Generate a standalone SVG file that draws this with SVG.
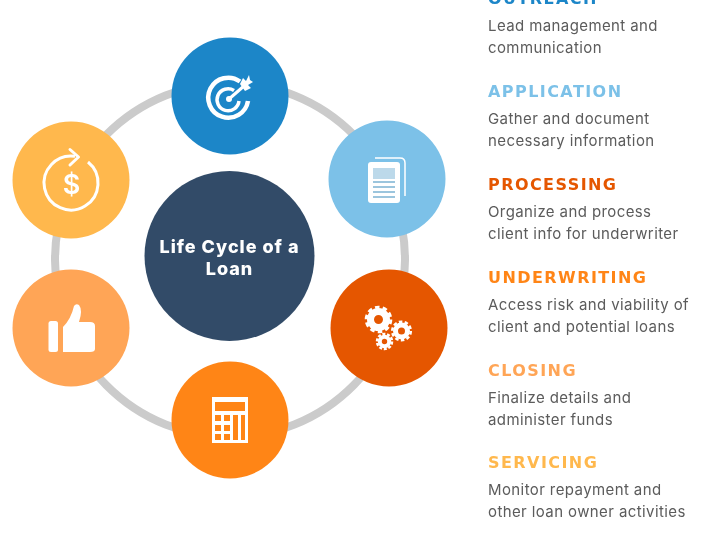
<svg xmlns="http://www.w3.org/2000/svg" width="720" height="540" viewBox="0 0 720 540">
<defs><filter id="soft" x="0" y="0" width="100%" height="100%"><feGaussianBlur stdDeviation="0.6"/></filter></defs>
<style>
.h{font:700 16px "DejaVu Sans","Liberation Sans",sans-serif;letter-spacing:1.43px}
.b{font:400 15px "Inter","Liberation Sans",sans-serif;fill:#5b5b5b;letter-spacing:.4px}
.t{font:800 18px "Inter","Liberation Sans",sans-serif;fill:#fff;text-anchor:middle;letter-spacing:1px}
.w{fill:#fff}
.l{fill:none;stroke:#fff;stroke-width:3}
</style>
<rect width="720" height="540" fill="#fff"/>
<g filter="url(#soft)">
<g id="connectors"><ellipse cx="230" cy="260" rx="175" ry="177" fill="none" stroke="#cbcbcb" stroke-width="8"/></g>
<g id="center"><circle cx="229.500" cy="256" r="85" fill="#334c68"/><text class="t" x="229.500" y="253">Life Cycle of a</text><text class="t" x="229.500" y="275">Loan</text></g>
<g id="outreach"><circle cx="230" cy="96" r="58.500" fill="#1e86c8"/>
<path d="M240 81.500A20 20 0 1 0 248 101" fill="none" stroke="#fff" stroke-width="4.500"/>
<path d="M234 90.500A11 11 0 1 0 239 101" fill="none" stroke="#fff" stroke-width="3.500"/>
<circle class="w" cx="229" cy="99" r="3"/>
<path d="M229 99L244 86" stroke="#fff" stroke-width="3"/>
<path class="w" d="M240 84L243 78L246 81L249 75L250 80L253 82L248 85L251 88L245 91Z"/></g>
<g id="application"><circle cx="387" cy="179" r="58.500" fill="#7cc1e8"/>
<path d="M375 158H400Q405 158 405 163V196" fill="none" stroke="#fff" stroke-width="1.500"/>
<rect class="w" x="368" y="162" width="32" height="41" rx="3"/>
<path d="M373 168H395V179H373Z" fill="#bcd9ea"/>
<path d="M373 181H395V183H373ZM373 186H395V188H373ZM373 191H395V193H373ZM373 196H395V198H373Z" fill="#9cc5dd"/></g>
<g id="processing"><circle cx="389" cy="328" r="58.500" fill="#e55700"/>
<g fill="none" stroke="#fff">
<circle cx="378.500" cy="319.500" r="8" stroke-width="7"/><circle cx="378.500" cy="319.500" r="12.300" stroke-width="3" stroke-dasharray="4.500 3.230"/>
<circle cx="401.500" cy="331" r="6" stroke-width="5"/><circle cx="401.500" cy="331" r="9.300" stroke-width="2.500" stroke-dasharray="3.500 2.340"/>
<circle cx="384.500" cy="341.500" r="4.700" stroke-width="4"/><circle cx="384.500" cy="341.500" r="7.500" stroke-width="2.500" stroke-dasharray="3 1.710"/>
</g></g>
<g id="closing"><circle cx="230" cy="420" r="58.500" fill="#ff8519"/>
<rect class="w" x="212" y="397" width="36" height="46"/>
<path fill="#ff8519" d="M215 402H245V411H215ZM215 415H221V421H215ZM224 415H230V421H224ZM215 425H221V431H215ZM224 425H230V431H224ZM215 434H221V440H215ZM224 434H230V440H224ZM233 415H238V440H233ZM241 415H245V440H241Z"/></g>
<g id="underwriting"><circle cx="71" cy="328" r="58.500" fill="#ffa556"/>
<rect class="w" x="48.500" y="321" width="9.500" height="31" rx="2.500"/>
<path class="w" d="M63 352V327Q71 319 74 306Q76 303 79 305Q83 310 79 322H90Q95 322 95 326V349Q95 352 90 352Z"/></g>
<g id="servicing"><circle cx="71" cy="180" r="58.500" fill="#ffb84d"/>
<path class="l" d="M75 156.300A27 27 0 1 0 88 162"/>
<path class="l" d="M70 149.500L78.500 157L70 165" stroke-linecap="round" stroke-linejoin="round"/>
<text x="71.500" y="194" style="font:600 27px 'Inter','Liberation Sans',sans-serif" fill="#fff" text-anchor="middle">$</text></g>
<g id="legend">
<text class="h" x="488" y="4" fill="#1e86c8">OUTREACH</text>
<text class="b" x="488" y="31">Lead management and</text><text class="b" x="488" y="53">communication</text>
<text class="h" x="488" y="97" fill="#7cc1e8">APPLICATION</text>
<text class="b" x="488" y="124">Gather and document</text><text class="b" x="488" y="146">necessary information</text>
<text class="h" x="488" y="190" fill="#e55700">PROCESSING</text>
<text class="b" x="488" y="217">Organize and process</text><text class="b" x="488" y="239">client info for underwriter</text>
<text class="h" x="488" y="283" fill="#ff8519">UNDERWRITING</text>
<text class="b" x="488" y="310">Access risk and viability of</text><text class="b" x="488" y="332">client and potential loans</text>
<text class="h" x="488" y="376" fill="#ffa556">CLOSING</text>
<text class="b" x="488" y="403">Finalize details and</text><text class="b" x="488" y="425">administer funds</text>
<text class="h" x="488" y="468" fill="#ffb84d">SERVICING</text>
<text class="b" x="488" y="495">Monitor repayment and</text><text class="b" x="488" y="517">other loan owner activities</text>
</g>
</g>
</svg>
